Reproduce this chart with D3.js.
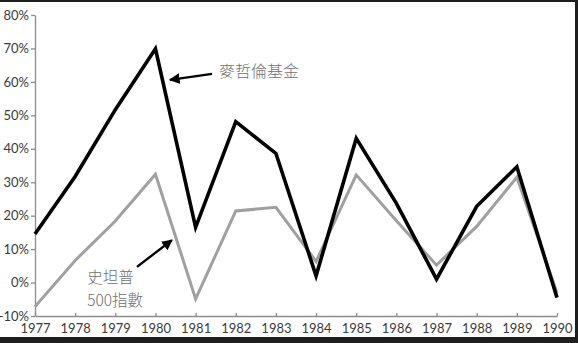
<!DOCTYPE html>
<html lang="zh-Hant">
<head>
<meta charset="UTF-8">
<script src="https://d3js.org/d3.v7.min.js"></script>
<style>
  body { margin: 0; background: #1e1e1e; }
  svg { display: block; }
  .axis path, .axis line { stroke: #8c8c8c; stroke-width: 1.3px; }
  .axis text { font-family: Lato, "Open Sans", sans-serif; font-size: 13px; fill: #3a3a3a; }
  .note { font-family: "Noto Sans CJK TC", sans-serif; font-size: 16px; font-weight: 300; fill: #707070; }
  .note.small { font-size: 15.5px; }
</style>
</head>
<body>
<svg width="578" height="343"></svg>
<script>
// 年份與報酬率（%）
const years = [1977, 1978, 1979, 1980, 1981, 1982, 1983, 1984, 1985, 1986, 1987, 1988, 1989, 1990];
const magellan = [14.5, 31.7, 51.7, 69.9, 16.5, 48.1, 38.6, 2.0, 43.1, 23.7, 1.0, 22.8, 34.6, -4.5];
const sp500 = [-7.2, 6.6, 18.4, 32.4, -4.9, 21.4, 22.5, 6.3, 32.2, 18.5, 5.2, 16.8, 31.5, -3.1];
const yTicks = [-10, 0, 10, 20, 30, 40, 50, 60, 70, 80];

const svg = d3.select("svg");

// 白底（右側與上下留黑邊）
svg.append("rect").attr("x", 0).attr("y", 2).attr("width", 575).attr("height", 335).attr("fill", "#fff");

const x = d3.scaleLinear().domain([1977, 1990]).range([35, 557]);
const y = d3.scaleLinear().domain([-10, 80]).range([316, 15]);

svg.append("defs").append("marker")
  .attr("id", "arrow")
  .attr("viewBox", "0 0 10 10")
  .attr("refX", 9).attr("refY", 5)
  .attr("markerWidth", 4.5).attr("markerHeight", 4.5)
  .attr("orient", "auto")
  .append("path").attr("d", "M0,0 L10,5 L0,10 z").attr("fill", "#000");

// 軸
svg.append("g").attr("class", "axis")
  .attr("transform", `translate(${x(1977)},0)`)
  .call(d3.axisLeft(y).tickValues(yTicks).tickSize(4).tickPadding(2).tickSizeOuter(0)
    .tickFormat(d => d + "%"));

svg.append("g").attr("class", "axis")
  .attr("transform", `translate(0,${y(-10)})`)
  .call(d3.axisBottom(x).tickValues(years).tickSize(-3).tickPadding(5).tickSizeOuter(0)
    .tickFormat(d3.format("d")))
  .call(g => g.selectAll("text").attr("dy", "0.9em"));

// 折線
const line = vals => d3.line().x((d, i) => x(years[i])).y(d => y(d))(vals);

svg.append("path").attr("d", line(sp500))
  .attr("fill", "none").attr("stroke", "#a0a0a0").attr("stroke-width", 3).attr("stroke-linejoin", "miter");
svg.append("path").attr("d", line(magellan))
  .attr("fill", "none").attr("stroke", "#000").attr("stroke-width", 3.6).attr("stroke-linejoin", "miter");

// 標註
svg.append("line")
  .attr("x1", x(1981.41)).attr("y1", y(62.4))
  .attr("x2", x(1980.36)).attr("y2", y(60.6))
  .attr("stroke", "#000").attr("stroke-width", 2.4).attr("marker-end", "url(#arrow)");
svg.append("text").attr("class", "note")
  .attr("x", x(1981.58)).attr("y", y(63)).attr("dy", "0.35em").text("麥哲倫基金");

svg.append("line")
  .attr("x1", x(1979.54)).attr("y1", y(4.7))
  .attr("x2", x(1980.41)).attr("y2", y(12.7))
  .attr("stroke", "#000").attr("stroke-width", 2.4).attr("marker-end", "url(#arrow)");
svg.append("text").attr("class", "note small")
  .attr("x", x(1978.3)).attr("y", y(1.5)).attr("dy", "0.35em").text("史坦普");
svg.append("text").attr("class", "note small")
  .attr("x", x(1978.3)).attr("y", y(-5.3)).attr("dy", "0.35em").text("500指數");
</script>
</body>
</html>
